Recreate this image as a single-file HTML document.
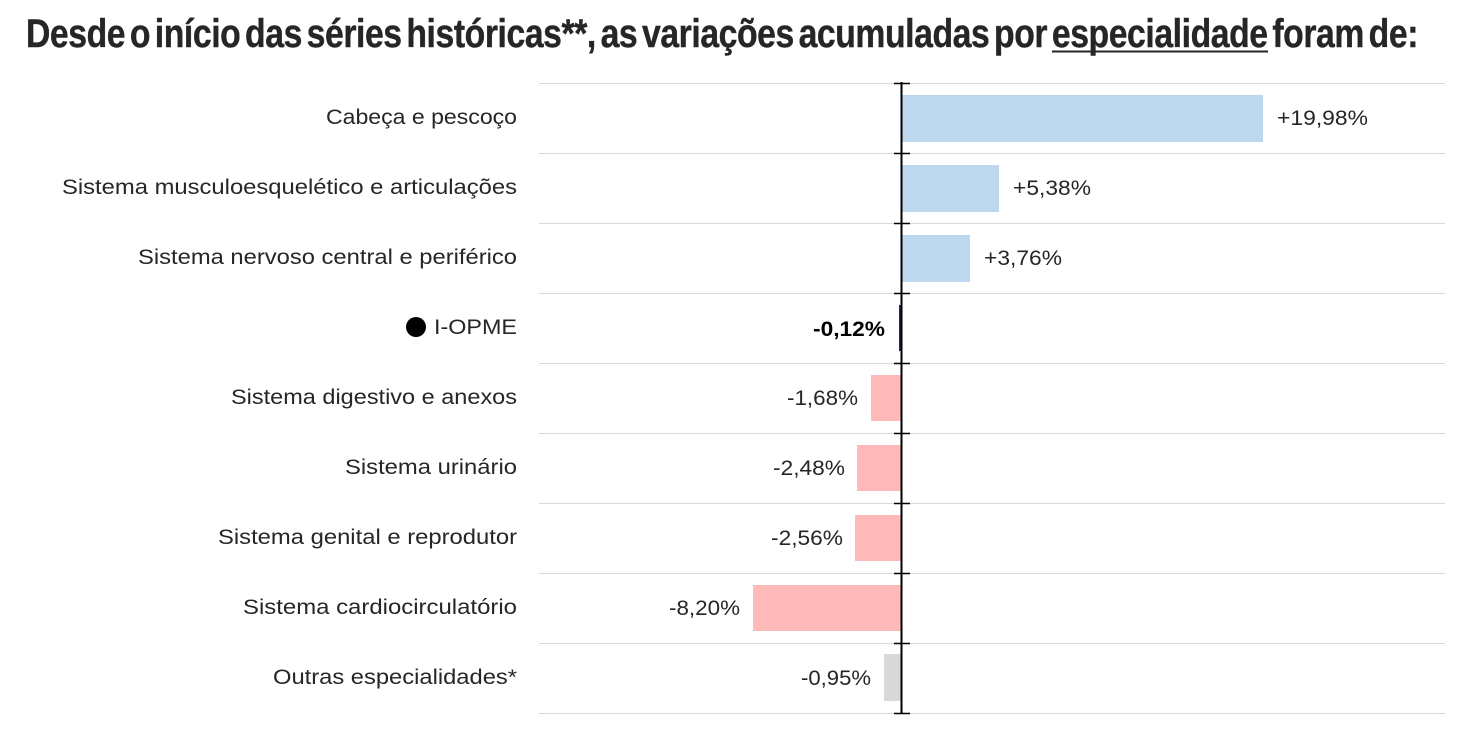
<!DOCTYPE html>
<html><head><meta charset="utf-8"><style>
html,body{margin:0;padding:0;background:#fff;}
svg{display:block;}
text{font-family:"Liberation Sans",sans-serif;fill:#262626;}
</style></head><body>
<svg width="1479" height="740" viewBox="0 0 1479 740" xmlns="http://www.w3.org/2000/svg">
<text x="26" y="47" font-size="40" font-weight="bold" textLength="1392" lengthAdjust="spacingAndGlyphs" style="font-family:'Liberation Sans Narrow','Liberation Sans',sans-serif;letter-spacing:-0.5px;word-spacing:-5px;stroke:#262626;stroke-width:0.4">Desde o início das séries históricas**, as variações acumuladas por especialidade foram de:</text>
<line x1="1052" y1="51.5" x2="1268" y2="51.5" stroke="#262626" stroke-width="2"/>
<g stroke="#d9d9d9" stroke-width="1">
<line x1="539" y1="83.5" x2="1445" y2="83.5"/>
<line x1="539" y1="153.5" x2="1445" y2="153.5"/>
<line x1="539" y1="223.5" x2="1445" y2="223.5"/>
<line x1="539" y1="293.5" x2="1445" y2="293.5"/>
<line x1="539" y1="363.5" x2="1445" y2="363.5"/>
<line x1="539" y1="433.5" x2="1445" y2="433.5"/>
<line x1="539" y1="503.5" x2="1445" y2="503.5"/>
<line x1="539" y1="573.5" x2="1445" y2="573.5"/>
<line x1="539" y1="643.5" x2="1445" y2="643.5"/>
<line x1="539" y1="713.5" x2="1445" y2="713.5"/>
</g>
<rect x="902" y="95" width="361" height="47" fill="#bdd7ee"/>
<rect x="902" y="165" width="97" height="47" fill="#bdd7ee"/>
<rect x="902" y="235" width="68" height="47" fill="#bdd7ee"/>
<rect x="899" y="305" width="2" height="46" fill="#1f2d5a"/>
<rect x="871" y="375" width="30" height="46" fill="#ffb9b9"/>
<rect x="857" y="445" width="44" height="46" fill="#ffb9b9"/>
<rect x="855" y="515" width="46" height="46" fill="#ffb9b9"/>
<rect x="753" y="585" width="148" height="46" fill="#ffb9b9"/>
<rect x="884" y="654" width="17" height="47" fill="#d9d9d9"/>
<g stroke="#000" stroke-width="1.5">
<line x1="901.5" y1="82" x2="901.5" y2="714" stroke-width="2"/>
<line x1="894" y1="83.5" x2="910" y2="83.5"/>
<line x1="894" y1="153.5" x2="910" y2="153.5"/>
<line x1="894" y1="223.5" x2="910" y2="223.5"/>
<line x1="894" y1="293.5" x2="910" y2="293.5"/>
<line x1="894" y1="363.5" x2="910" y2="363.5"/>
<line x1="894" y1="433.5" x2="910" y2="433.5"/>
<line x1="894" y1="503.5" x2="910" y2="503.5"/>
<line x1="894" y1="573.5" x2="910" y2="573.5"/>
<line x1="894" y1="643.5" x2="910" y2="643.5"/>
<line x1="894" y1="713.5" x2="910" y2="713.5"/>
</g>
<g font-size="21">
<text x="326" y="124" textLength="191" lengthAdjust="spacingAndGlyphs">Cabeça e pescoço</text>
<text x="62" y="194" textLength="455" lengthAdjust="spacingAndGlyphs">Sistema musculoesquelético e articulações</text>
<text x="138" y="264" textLength="379" lengthAdjust="spacingAndGlyphs">Sistema nervoso central e periférico</text>
<text x="434" y="334" textLength="83" lengthAdjust="spacingAndGlyphs">I-OPME</text>
<text x="231" y="404" textLength="286" lengthAdjust="spacingAndGlyphs">Sistema digestivo e anexos</text>
<text x="345" y="474" textLength="172" lengthAdjust="spacingAndGlyphs">Sistema urinário</text>
<text x="218" y="544" textLength="299" lengthAdjust="spacingAndGlyphs">Sistema genital e reprodutor</text>
<text x="243" y="614" textLength="274" lengthAdjust="spacingAndGlyphs">Sistema cardiocirculatório</text>
<text x="273" y="684" textLength="244" lengthAdjust="spacingAndGlyphs">Outras especialidades*</text>
<text x="1277" y="125" textLength="91" lengthAdjust="spacingAndGlyphs">+19,98%</text>
<text x="1013" y="195" textLength="78" lengthAdjust="spacingAndGlyphs">+5,38%</text>
<text x="984" y="265" textLength="78" lengthAdjust="spacingAndGlyphs">+3,76%</text>
<text x="813" y="336" textLength="72" lengthAdjust="spacingAndGlyphs" font-weight="bold" style="fill:#000">-0,12%</text>
<text x="787" y="405" textLength="71" lengthAdjust="spacingAndGlyphs">-1,68%</text>
<text x="773" y="475" textLength="72" lengthAdjust="spacingAndGlyphs">-2,48%</text>
<text x="771" y="545" textLength="72" lengthAdjust="spacingAndGlyphs">-2,56%</text>
<text x="669" y="615" textLength="71" lengthAdjust="spacingAndGlyphs">-8,20%</text>
<text x="801" y="685" textLength="70" lengthAdjust="spacingAndGlyphs">-0,95%</text>
</g>
<circle cx="416" cy="327" r="10" fill="#000"/>
</svg>
</body></html>
